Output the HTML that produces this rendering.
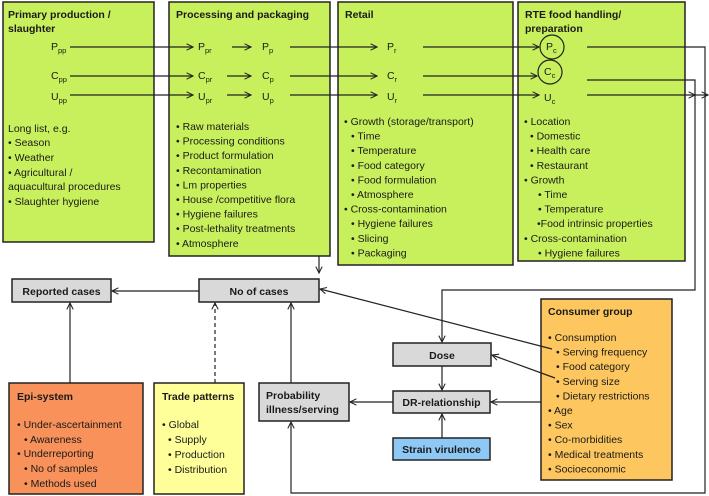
<!DOCTYPE html>
<html><head><meta charset="utf-8"><style>
html,body{margin:0;padding:0;background:#fff;}
svg{display:block;}
text{font-family:"Liberation Sans",sans-serif;font-size:10.5px;fill:#1a1a1a;}
.b{font-weight:bold;}
</style></head><body>
<svg width="709" height="496" viewBox="0 0 709 496" xmlns="http://www.w3.org/2000/svg">
<defs>
<marker id="a" viewBox="0 0 10 10" refX="9" refY="5" markerWidth="8" markerHeight="8" orient="auto-start-reverse" markerUnits="userSpaceOnUse">
<path d="M1,1 L9,5 L1,9" fill="none" stroke="#222" stroke-width="1.3"/></marker>
</defs>
<g stroke="#222" stroke-width="1.5">
<rect x="3" y="2" width="151" height="240" fill="#c8f05c"/>
<rect x="169" y="2" width="161" height="254" fill="#c8f05c"/>
<rect x="338" y="2" width="175" height="263" fill="#c8f05c"/>
<rect x="518" y="2" width="167" height="259" fill="#c8f05c"/>
<rect x="12" y="279" width="99" height="23" fill="#d9d9d9"/>
<rect x="199" y="279" width="120" height="23" fill="#d9d9d9"/>
<rect x="393" y="343" width="98" height="23" fill="#d9d9d9"/>
<rect x="393" y="391" width="97" height="22" fill="#d9d9d9"/>
<rect x="393" y="438" width="97" height="22" fill="#8ec8f5"/>
<rect x="259" y="383" width="90" height="38" fill="#d9d9d9"/>
<rect x="9" y="383" width="134" height="111" fill="#f8915a"/>
<rect x="154" y="383" width="90" height="111" fill="#ffff99"/>
<rect x="541" y="299" width="131" height="181" fill="#fdc65e"/>
</g>
<g stroke="#222" stroke-width="1.2" fill="none">
<!-- P row -->
<line x1="70" y1="47" x2="193" y2="47" marker-end="url(#a)"/>
<line x1="232" y1="47" x2="251" y2="47" marker-end="url(#a)"/>
<line x1="290" y1="47" x2="377" y2="47" marker-end="url(#a)"/>
<line x1="423" y1="47" x2="539" y2="47" marker-end="url(#a)"/>
<circle cx="552" cy="47" r="12"/>
<polyline points="587,47 705,47 705,493 291,493 291,422" marker-end="url(#a)"/>
<!-- C row -->
<line x1="70" y1="76" x2="193" y2="76" marker-end="url(#a)"/>
<line x1="227" y1="76" x2="251" y2="76" marker-end="url(#a)"/>
<line x1="290" y1="76" x2="377" y2="76" marker-end="url(#a)"/>
<line x1="423" y1="76" x2="537" y2="76" marker-end="url(#a)"/>
<circle cx="550" cy="72" r="12"/>
<polyline points="587,80 695,80 695,290 442,290 442,342" marker-end="url(#a)"/>
<!-- U row -->
<line x1="70" y1="95" x2="193" y2="95" marker-end="url(#a)"/>
<line x1="227" y1="95" x2="251" y2="95" marker-end="url(#a)"/>
<line x1="290" y1="95" x2="377" y2="95" marker-end="url(#a)"/>
<line x1="423" y1="95" x2="539" y2="95" marker-end="url(#a)"/>
<line x1="587" y1="95" x2="695" y2="95" marker-end="url(#a)"/>
<line x1="695" y1="95" x2="708" y2="95" marker-end="url(#a)"/>
<!-- lower -->
<line x1="319" y1="256" x2="319" y2="273" marker-end="url(#a)"/>
<line x1="199" y1="291" x2="112" y2="291" marker-end="url(#a)"/>
<line x1="70" y1="383" x2="70" y2="303" marker-end="url(#a)"/>
<line x1="215" y1="383" x2="215" y2="303" stroke-dasharray="4,3" marker-end="url(#a)"/>
<line x1="291" y1="383" x2="291" y2="303" marker-end="url(#a)"/>
<line x1="552" y1="349" x2="320" y2="289" marker-end="url(#a)"/>
<line x1="555" y1="378" x2="492" y2="355" marker-end="url(#a)"/>
<line x1="442" y1="366" x2="442" y2="390" marker-end="url(#a)"/>
<line x1="442" y1="438" x2="442" y2="414" marker-end="url(#a)"/>
<line x1="541" y1="402" x2="491" y2="402" marker-end="url(#a)"/>
<line x1="393" y1="402" x2="350" y2="402" marker-end="url(#a)"/>
</g>
<!-- Row labels -->
<g>
<text x="51" y="50">P<tspan font-size="7.5" dy="3">pp</tspan></text>
<text x="51" y="79">C<tspan font-size="7.5" dy="3">pp</tspan></text>
<text x="51" y="100">U<tspan font-size="7.5" dy="3">pp</tspan></text>
<text x="198" y="50">P<tspan font-size="7.5" dy="3">pr</tspan></text>
<text x="198" y="79">C<tspan font-size="7.5" dy="3">pr</tspan></text>
<text x="198" y="100">U<tspan font-size="7.5" dy="3">pr</tspan></text>
<text x="262" y="50">P<tspan font-size="7.5" dy="3">p</tspan></text>
<text x="262" y="79">C<tspan font-size="7.5" dy="3">p</tspan></text>
<text x="262" y="100">U<tspan font-size="7.5" dy="3">p</tspan></text>
<text x="387" y="50">P<tspan font-size="7.5" dy="3">r</tspan></text>
<text x="387" y="79">C<tspan font-size="7.5" dy="3">r</tspan></text>
<text x="387" y="100">U<tspan font-size="7.5" dy="3">r</tspan></text>
<text x="546" y="50">P<tspan font-size="7.5" dy="3">c</tspan></text>
<text x="544" y="75">C<tspan font-size="7.5" dy="3">c</tspan></text>
<text x="544" y="101">U<tspan font-size="7.5" dy="3">c</tspan></text>
</g>
<!-- Box texts -->
<text class="b" x="8" y="18">Primary production /</text>
<text class="b" x="8" y="32">slaughter</text>
<text x="8" y="132">Long list, e.g.</text>
<text x="8" y="146">• Season</text>
<text x="8" y="161">• Weather</text>
<text x="8" y="176">• Agricultural /</text>
<text x="8" y="190">aquacultural  procedures</text>
<text x="8" y="205">• Slaughter hygiene</text>

<text class="b" x="176" y="18">Processing and packaging</text>
<text x="176" y="130">• Raw materials</text>
<text x="176" y="144.6">• Processing conditions</text>
<text x="176" y="159.2">• Product formulation</text>
<text x="176" y="173.8">• Recontamination</text>
<text x="176" y="188.4">• Lm properties</text>
<text x="176" y="203">• House /competitive flora</text>
<text x="176" y="217.6">• Hygiene failures</text>
<text x="176" y="232.2">• Post-lethality treatments</text>
<text x="176" y="246.8">• Atmosphere</text>

<text class="b" x="345" y="18">Retail</text>
<text x="344" y="125">• Growth (storage/transport)</text>
<text x="351" y="139.6">• Time</text>
<text x="351" y="154.2">• Temperature</text>
<text x="351" y="168.8">• Food category</text>
<text x="351" y="183.4">• Food formulation</text>
<text x="351" y="198">• Atmosphere</text>
<text x="344" y="212.6">• Cross-contamination</text>
<text x="351" y="227.2">• Hygiene failures</text>
<text x="351" y="241.8">• Slicing</text>
<text x="351" y="256.4">• Packaging</text>

<text class="b" x="525" y="18">RTE food handling/</text>
<text class="b" x="525" y="32">preparation</text>
<text x="524" y="125">• Location</text>
<text x="530" y="139.6">• Domestic</text>
<text x="530" y="154.2">• Health care</text>
<text x="530" y="168.8">• Restaurant</text>
<text x="524" y="183.4">• Growth</text>
<text x="538" y="198">• Time</text>
<text x="538" y="212.6">• Temperature</text>
<text x="537" y="227.2">•Food intrinsic properties</text>
<text x="524" y="241.8">• Cross-contamination</text>
<text x="538" y="256.4">• Hygiene failures</text>

<text class="b" x="61.5" y="295" text-anchor="middle">Reported cases</text>
<text class="b" x="259" y="295" text-anchor="middle">No of cases</text>
<text class="b" x="442" y="359" text-anchor="middle">Dose</text>
<text class="b" x="441.5" y="406" text-anchor="middle">DR-relationship</text>
<text class="b" x="441.5" y="453" text-anchor="middle">Strain virulence</text>
<text class="b" x="266" y="399">Probability</text>
<text class="b" x="266" y="413">illness/serving</text>

<text class="b" x="17" y="400">Epi-system</text>
<text x="17" y="428">• Under-ascertainment</text>
<text x="24" y="443">• Awareness</text>
<text x="17" y="457">• Underreporting</text>
<text x="24" y="472">• No of samples</text>
<text x="24" y="487">• Methods used</text>

<text class="b" x="162" y="400">Trade patterns</text>
<text x="162" y="428">• Global</text>
<text x="168" y="443">• Supply</text>
<text x="168" y="458">• Production</text>
<text x="168" y="473">• Distribution</text>

<text class="b" x="548" y="315">Consumer group</text>
<text x="548" y="341">• Consumption</text>
<text x="556" y="355.6">• Serving frequency</text>
<text x="556" y="370.2">• Food category</text>
<text x="556" y="384.8">• Serving size</text>
<text x="556" y="399.4">• Dietary restrictions</text>
<text x="548" y="414">• Age</text>
<text x="548" y="428.6">• Sex</text>
<text x="548" y="443.2">• Co-morbidities</text>
<text x="548" y="457.8">• Medical treatments</text>
<text x="548" y="472.4">• Socioeconomic</text>
</svg>
</body></html>
